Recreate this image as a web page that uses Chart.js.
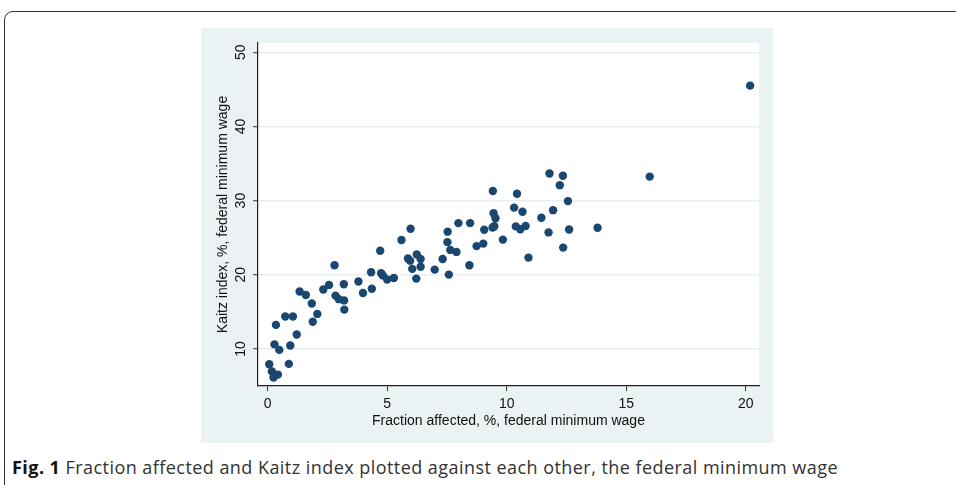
<!DOCTYPE html>
<html>
<head>
<meta charset="utf-8">
<script src="https://cdn.jsdelivr.net/npm/chart.js@4.4.0/dist/chart.umd.min.js"></script>
<style>
  html, body { margin: 0; padding: 0; background: #fff; width: 956px; height: 485px; overflow: hidden; }
  #frame { position: absolute; left: 4px; top: 11px; width: 1000px; height: 520px; border: 1.5px solid #333; border-radius: 9px; box-sizing: border-box; }
  #panel { position: absolute; left: 201px; top: 28px; width: 572px; height: 415px; background: #eaf2f3; }
  #chart { display: block; }
  #caption { position: absolute; left: 12px; top: 455px; font-family: "Open Sans", sans-serif; font-size: 18px; letter-spacing: 0.45px; color: #333; white-space: nowrap; }
  #caption b { font-weight: 700; color: #111; }
</style>
</head>
<body>
<div id="frame"></div>
<div id="panel"><canvas id="chart" width="572" height="415"></canvas></div>
<div id="caption"><b>Fig. 1</b> Fraction affected and Kaitz index plotted against each other, the federal minimum wage</div>
<script>
// values
const fractionAffected = [0.07, 0.18, 0.43, 0.25, 0.89, 0.29, 0.49, 0.95, 0.35, 0.74, 1.06, 1.22, 1.34, 1.60, 1.85, 1.89, 2.08,
  2.33, 2.57, 2.80, 2.84, 2.98, 3.20, 3.19, 3.21, 3.80, 3.99, 4.33, 4.36, 4.71, 4.75, 4.82, 5.00, 5.28, 5.60, 5.87, 5.96,
  5.98, 6.05, 6.24, 6.40, 6.40, 6.22, 6.99, 7.32, 7.53, 7.52, 7.58, 7.64, 7.90, 7.98, 8.44, 8.47, 8.74, 9.02, 9.06, 9.42,
  9.45, 9.53, 9.41, 9.48, 9.84, 10.43, 10.31, 10.66, 10.38, 10.57, 10.79, 10.91, 11.45, 11.79, 11.94, 11.75, 12.22, 12.35,
  12.36, 12.56, 12.61, 13.80, 15.98, 20.18];
const kaitzIndex = [7.94, 6.97, 6.54, 6.13, 7.98, 10.61, 9.87, 10.47, 13.24, 14.38, 14.38, 11.95, 17.75, 17.28, 16.13, 13.67, 14.72,
  18.02, 18.63, 21.28, 17.19, 16.71, 16.54, 18.72, 15.30, 19.10, 17.55, 20.34, 18.12, 23.24, 20.21, 19.91, 19.37, 19.57, 24.69, 22.20, 21.90,
  26.21, 20.79, 22.74, 22.13, 21.08, 19.48, 20.69, 22.13, 25.81, 24.40, 20.02, 23.35, 23.08, 26.96, 21.28, 26.96, 23.86, 24.20, 26.07, 31.30,
  28.29, 27.62, 26.38, 26.54, 24.74, 30.92, 29.05, 28.50, 26.52, 26.14, 26.58, 22.31, 27.69, 33.66, 28.71, 25.71, 32.08, 33.36,
  23.66, 29.93, 26.11, 26.34, 33.23, 45.50];
const xTicks = [0, 5, 10, 15, 20];
const yTicks = [10, 20, 30, 40, 50];

const points = fractionAffected.map((x, i) => ({ x: x, y: kaitzIndex[i] }));

// white plot region, the rest of the canvas shows the panel colour
const plotBackground = {
  id: "plotBackground",
  beforeDraw(chart) {
    const a = chart.chartArea;
    chart.ctx.save();
    chart.ctx.fillStyle = "#fff";
    chart.ctx.fillRect(a.left, a.top, a.right - a.left, a.bottom - a.top);
    chart.ctx.restore();
  },
};

const axisFont = { family: "Liberation Sans", size: 14 };

new Chart(document.getElementById("chart"), {
  type: "scatter",
  data: {
    datasets: [
      {
        data: points,
        backgroundColor: "#1a476f",
        borderWidth: 0,
        pointRadius: 4.2,
      },
    ],
  },
  options: {
    responsive: false,
    animation: false,
    devicePixelRatio: 1,
    layout: { padding: { left: 0, right: 14, top: 15, bottom: 0 } },
    plugins: {
      legend: { display: false },
      tooltip: { enabled: false },
    },
    scales: {
      x: {
        type: "linear",
        min: -0.4,
        max: 20.55,
        afterBuildTicks: (s) => { s.ticks = xTicks.map((v) => ({ value: v })); },
        afterFit: (s) => { s.height = 57; },
        grid: { drawOnChartArea: false, tickLength: 5, tickColor: "#333", tickWidth: 1 },
        border: { color: "#222", width: 1.2 },
        ticks: { color: "#111", font: axisFont, padding: 4.8, maxRotation: 0 },
        title: {
          display: true,
          text: "Fraction affected, %, federal minimum wage",
          color: "#111",
          font: axisFont,
          padding: { top: 0, bottom: 13.6 },
        },
      },
      y: {
        type: "linear",
        min: 5,
        max: 51.25,
        afterBuildTicks: (s) => { s.ticks = yTicks.map((v) => ({ value: v })); },
        afterFit: (s) => { s.width = 57; },
        grid: { color: "#e6eef0", lineWidth: 1.5, tickLength: 5, tickColor: "#333", tickWidth: 1 },
        border: { color: "#222", width: 1.2 },
        ticks: { color: "#111", font: axisFont, padding: 4.2, minRotation: 90, maxRotation: 90, crossAlign: "center" },
        title: {
          display: true,
          text: "Kaitz index, %, federal minimum wage",
          color: "#111",
          font: axisFont,
          padding: { top: 14.2, bottom: 0 },
        },
      },
    },
  },
  plugins: [plotBackground],
});
</script>
</body>
</html>
